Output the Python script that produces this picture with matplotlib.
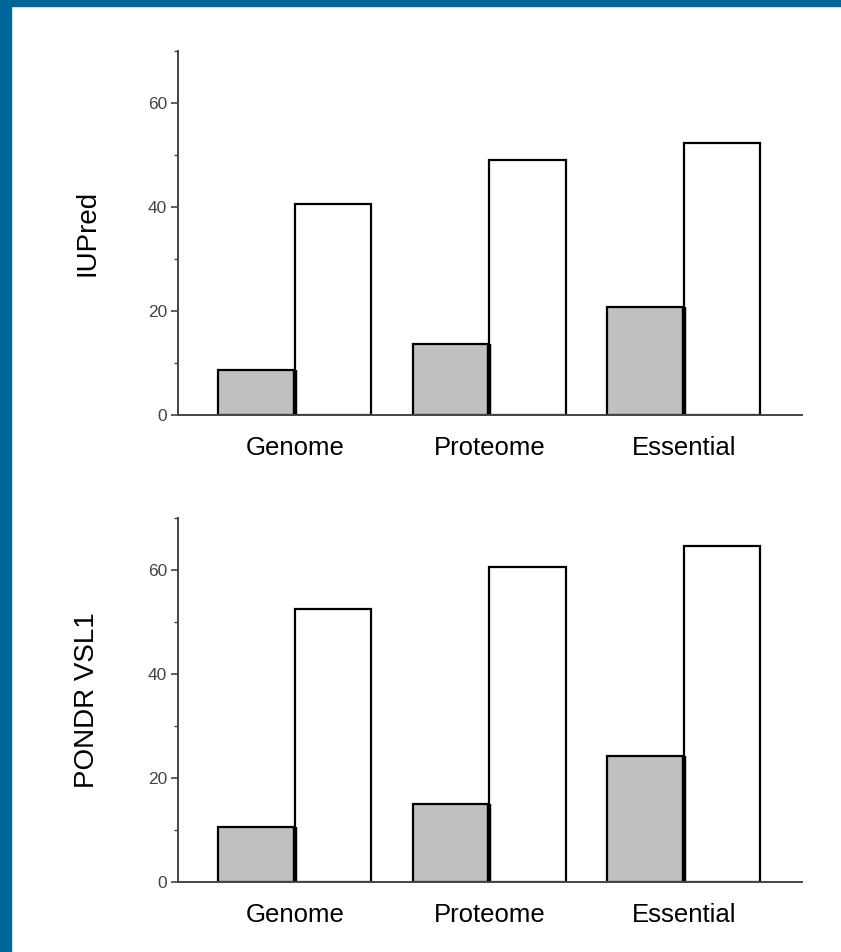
import numpy as np
from matplotlib import pyplot as plt
from matplotlib.patches import Rectangle
from matplotlib.ticker import MultipleLocator

plt.rcParams['font.family'] = ['Liberation Sans', 'DejaVu Sans']

#Categorias y valores
grupos = ['Genome', 'Proteome', 'Essential']
iupred_gris = [8.6, 13.6, 20.8]
iupred_blanco = [40.6, 49.0, 52.3]
pondr_gris = [10.6, 15.0, 24.2]
pondr_blanco = [52.5, 60.6, 64.6]

paneles = [('IUPred', iupred_gris, iupred_blanco),
           ('PONDR VSL1', pondr_gris, pondr_blanco)]

fig = plt.figure(figsize=(8.41, 9.52), dpi=100)

#Marco azul de la diapositiva
fig.patches.append(Rectangle((0, 0), 11 / 841, 1, transform=fig.transFigure,
                             color='#006699', zorder=-1))
fig.patches.append(Rectangle((0, 1 - 6 / 952), 1, 6 / 952, transform=fig.transFigure,
                             color='#006699', zorder=-1))

posiciones = [[0.2117, 0.5641, 0.7420, 0.3824],
              [0.2117, 0.0735, 0.7420, 0.3824]]

x = np.arange(len(grupos))
ancho = 0.393

for pos, (nombre, gris, blanco) in zip(posiciones, paneles):
    ax = fig.add_axes(pos)
    ax.bar(x - ancho / 2, gris, ancho, color='#c0c0c0', edgecolor='black', linewidth=1.6)
    ax.bar(x + ancho / 2, blanco, ancho, color='white', edgecolor='black', linewidth=1.6)
    #borde derecho grueso de las barras grises
    ax.vlines(x, 0, gris, color='black', linewidth=3.2)

    ax.set_xlim(-0.60, 2.607)
    ax.set_ylim(0, 70)
    ax.spines['top'].set_visible(False)
    ax.spines['right'].set_visible(False)
    for s in ['left', 'bottom']:
        ax.spines[s].set_color('#444444')
        ax.spines[s].set_linewidth(1.4)

    ax.set_yticks([0, 20, 40, 60])
    ax.yaxis.set_minor_locator(MultipleLocator(10))
    ax.tick_params(axis='y', which='major', length=5, width=1.2, color='#444444',
                   labelsize=12.5, labelcolor='#444444', pad=3)
    ax.tick_params(axis='y', which='minor', length=3, width=1.0, color='#444444')

    ax.set_xticks(x)
    ax.set_xticklabels(grupos)
    ax.tick_params(axis='x', length=0, labelsize=18.5, pad=15)

    ax.set_ylabel(nombre, fontsize=20)
    ax.yaxis.set_label_coords(-0.125, 0.5)

plt.savefig('out.png', dpi=100)
